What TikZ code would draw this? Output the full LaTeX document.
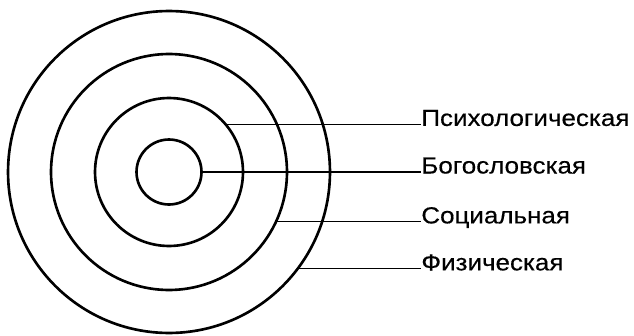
\documentclass[tikz,border=0pt]{standalone}
\usepackage{fontspec}
\setmainfont{Liberation Sans}
\newfontfamily\lblfont[FakeStretch=1.12, FakeBold=0.4]{Liberation Sans}
\usetikzlibrary{positioning, calc}
\tikzset{
  ring/.style={circle, draw=black, line width=1.5pt, inner sep=0pt, outer sep=0pt},
  lbl/.style={anchor=base west, inner sep=0pt, yshift=-0.03cm,
    font=\lblfont\fontsize{13.2}{15}\selectfont},
  leader/.style={line width=0.6pt, color=black}
}
\begin{document}
\begin{tikzpicture}[x=0.02cm, y=0.02cm]
  \useasboundingbox (0,0) rectangle (634,335);

  % Rings
  \coordinate (ctr) at (169,163);
  \node[ring, minimum size=1.3cm] (core) at (ctr) {};
  \node[ring, minimum size=2.96cm] (inner) at (ctr) {};
  \node[ring, minimum size=4.72cm] (middle) at (ctr) {};
  \node[ring, minimum size=6.44cm] (outer) at (ctr) {};

  % Labels
  \coordinate (txt) at (421,0);
  \node[lbl] (psy) at (inner.40.4 -| txt) {Психологическая};
  \node[lbl] (theo) at (core.0 -| txt) {Богословская};
  \node[lbl] (soc) at (middle.-25.1 -| txt) {Социальная};
  \node[lbl] (phys) at (outer.-37.9 -| txt) {Физическая};

  % Leader lines
  \draw[leader] (inner.40.4) -- (inner.40.4 -| psy.west);
  \draw[leader] (core.0) -- (core.0 -| theo.west);
  \draw[leader] (middle.-25.1) -- (middle.-25.1 -| soc.west);
  \draw[leader] (outer.-37.9) -- (outer.-37.9 -| phys.west);
\end{tikzpicture}
\end{document}
